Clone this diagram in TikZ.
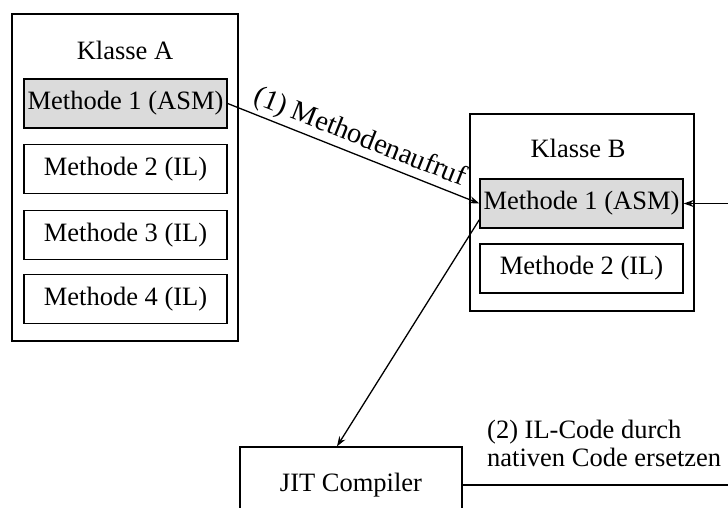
\documentclass[tikz,border=0pt]{standalone}
\usepackage{fontspec}
\setmainfont{Liberation Serif}
\usetikzlibrary{arrows.meta}
\begin{document}
\begin{tikzpicture}[x=1pt,y=-1pt,
  every node/.style={font=\fontsize{26.5}{28}\selectfont, inner sep=0pt},
  outerbox/.style={draw, line width=1.3pt, rectangle},
  method/.style={draw, line width=1.3pt, rectangle, minimum width=203pt, minimum height=49pt},
  asm/.style={method, fill=gray!28},
  conn/.style={line width=1.3pt, -{Stealth[length=10pt,width=7pt]}}
]
\useasboundingbox (0,0) rectangle (728,507);
\clip (0,0) rectangle (728,507);

% Klasse A with its methods
\node[outerbox, minimum width=226pt, minimum height=327pt] (ka) at (125,177.5) {};
\node (kat) at (125,50) {Klasse A};
\node[asm] (am1) at (125.5,103.5) {Methode 1 (ASM)};
\node[method] (am2) at (125.5,169) {Methode 2 (IL)};
\node[method] (am3) at (125.5,235) {Methode 3 (IL)};
\node[method] (am4) at (125.5,299) {Methode 4 (IL)};

% Klasse B with its methods
\node[outerbox, minimum width=224pt, minimum height=197pt] (kb) at (582,212.5) {};
\node (kbt) at (578,148) {Klasse B};
\node[asm] (bm1) at (581.5,203.5) {Methode 1 (ASM)};
\node[method] (bm2) at (581.5,268.5) {Methode 2 (IL)};

% JIT compiler
\node[outerbox, minimum width=222pt, minimum height=76pt] (jit) at (351,485) {JIT Compiler};

% call from A to B
\draw[conn] (am1.east) -- node[sloped, above=3pt, font=\fontsize{28.5}{30}\selectfont] {(1) Methodenaufruf} (bm1.west);
% B hands its method to the compiler
\coordinate (bstart) at ([yshift=9pt]bm1.south west);
\coordinate (jtop) at ([xshift=-14pt]jit.north);
\draw[conn] (bstart) -- (jtop);
% compiled code goes back into B
\draw[conn] (jit.east) -- ++(320,0) |- (bm1.east);
\node[anchor=north west, align=left] (lbl2) at (487,420) {(2) IL-Code durch\\nativen Code ersetzen};
\end{tikzpicture}
\end{document}
